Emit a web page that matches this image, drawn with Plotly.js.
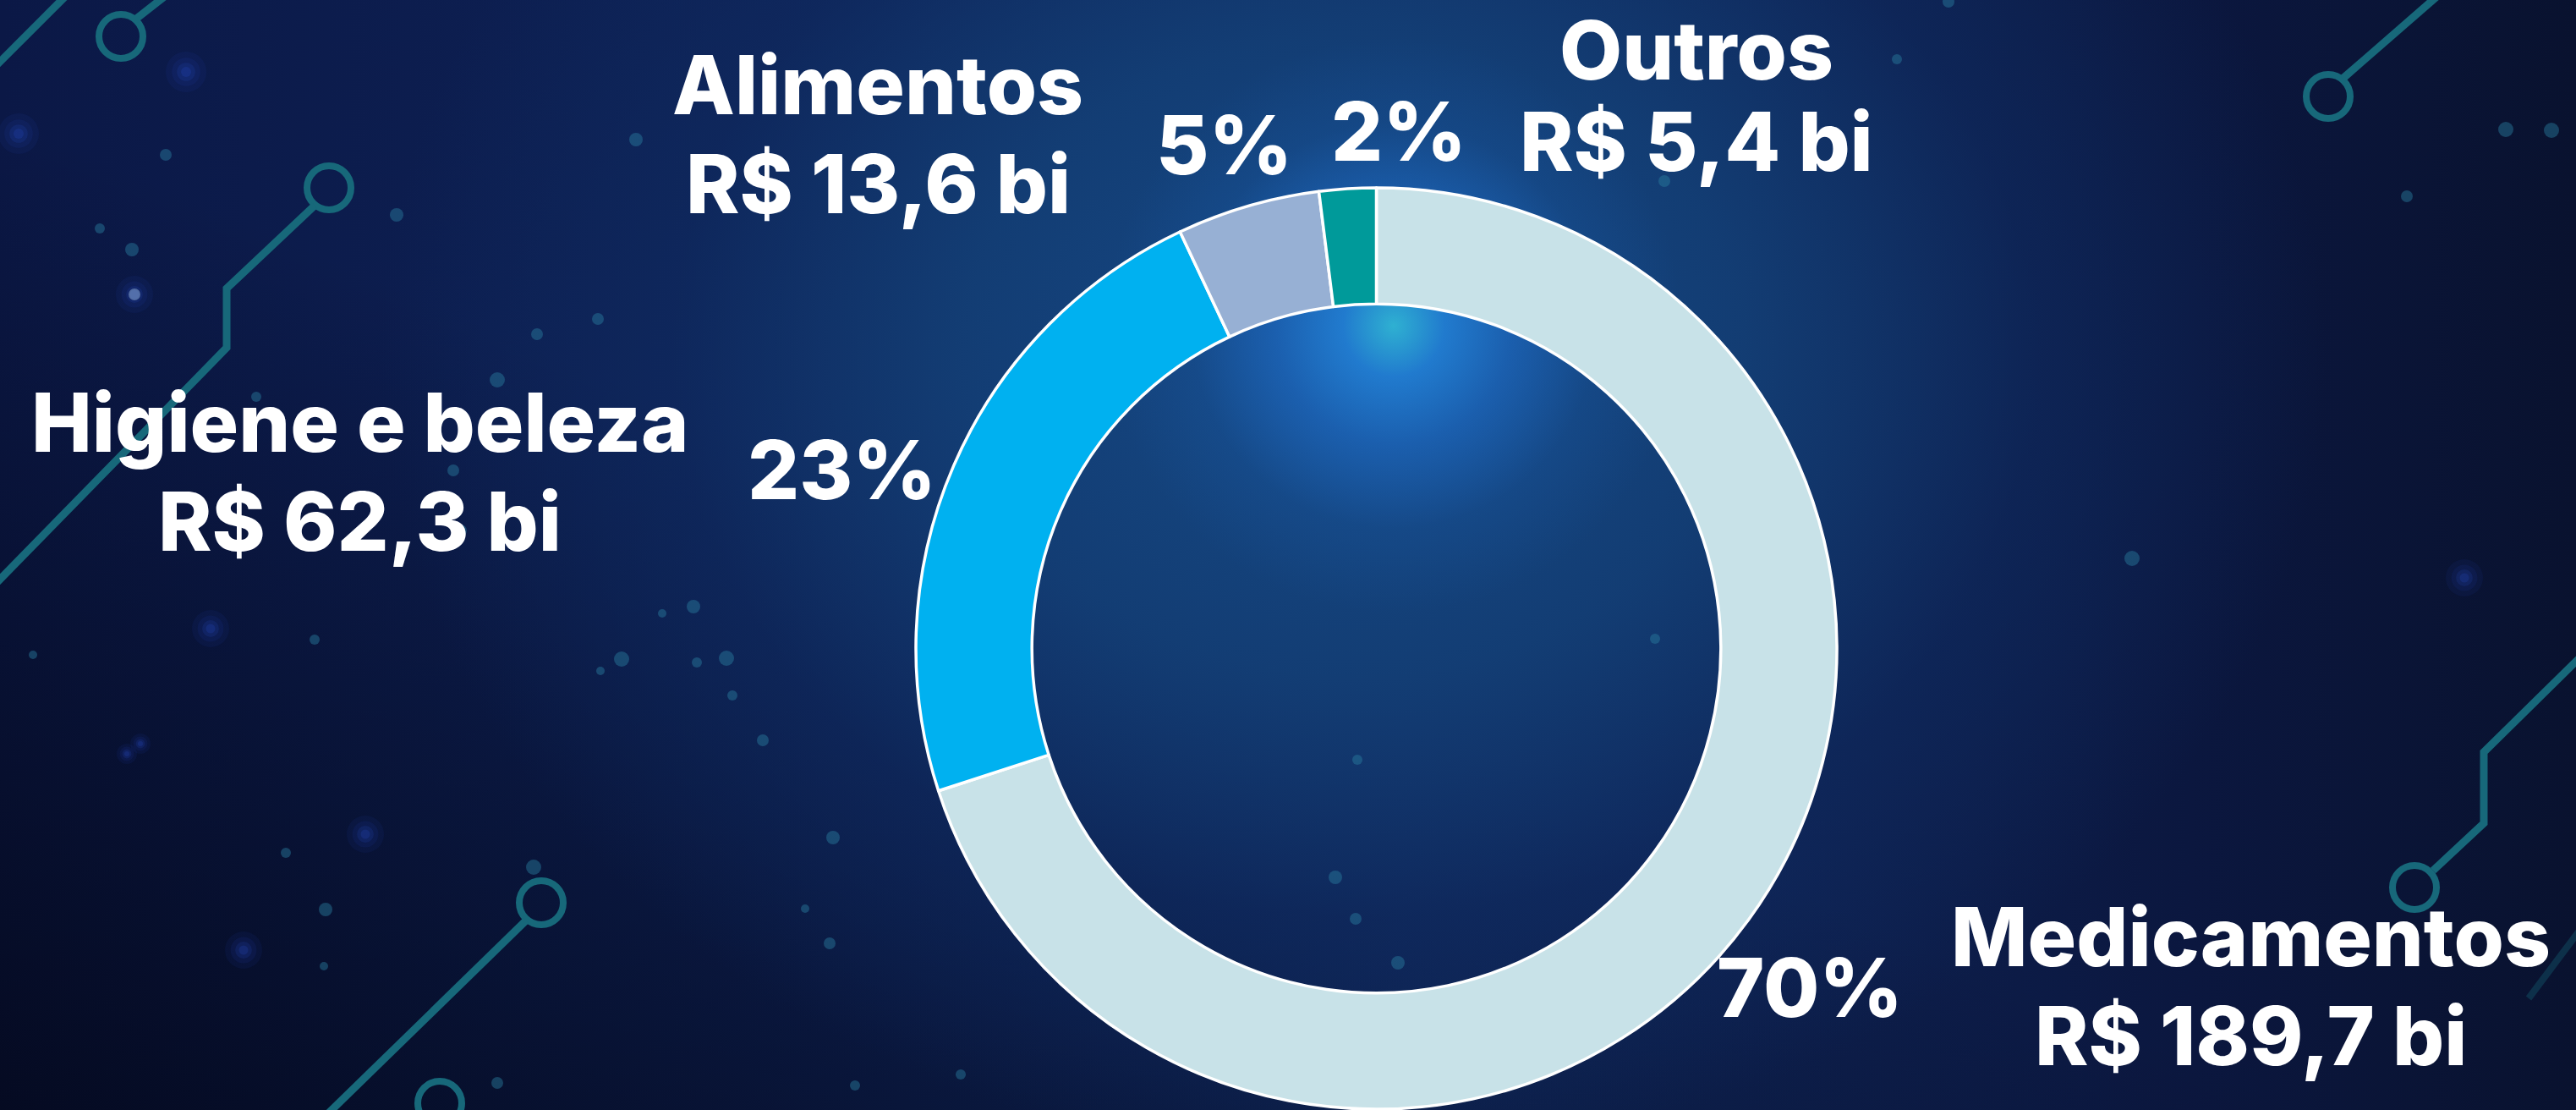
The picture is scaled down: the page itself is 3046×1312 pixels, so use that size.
<!DOCTYPE html>
<html>
<head>
<meta charset="utf-8">
<script src="https://cdn.plot.ly/plotly-3.0.1.min.js"></script>
<style>
html,body{margin:0;padding:0;}
body{
  width:3046px;height:1312px;overflow:hidden;
  background:
    radial-gradient(circle 340px at 1648px 385px, rgba(48,182,214,0.95) 0px, rgba(34,128,214,0.9) 60px, rgba(30,108,198,0.65) 140px, rgba(24,86,160,0.3) 240px, rgba(20,70,130,0) 340px),
    radial-gradient(ellipse 1150px 950px at 1600px 420px, rgba(22,74,134,1) 0%, rgba(19,63,118,0.92) 40%, rgba(15,44,98,0.55) 70%, rgba(12,30,75,0) 100%),
    linear-gradient(to top right, rgba(3,6,22,0.75) 0%, rgba(3,6,22,0) 45%),
    linear-gradient(90deg, #0b1846 0%, #0e2358 35%, #10295f 55%, #0b173f 85%, #09122f 100%);
}
#chart{width:3046px;height:1312px;}
</style>
</head>
<body>
<div id="chart"></div>
<script>
// ---- data ----
const categories = ['Medicamentos', 'Higiene e beleza', 'Alimentos', 'Outros'];
const valuesBi = [189.7, 62.3, 13.6, 5.4];

// ---- styles ----
const sliceColors = ['#C8E2E8', '#00B1F0', '#97B0D4', '#009A9A'];
const W = 3046, H = 1312;
const X = px => px / W;
const Y = py => 1 - py / H;

// label placement (pixel positions of text centres; null = pin to top edge)
const namePos = [[2661, 1107], [426, 499], [1038, 100], [2006, null]];
const pctPos = [[2140, 1167], [995, 555], [1447, 171], [1654, 155]];
const lineGap = 117;
const topLine2 = 167;

const total = valuesBi.reduce((a, b) => a + b, 0);
const fmtValue = v => 'R$ ' + v.toFixed(1).replace('.', ',') + ' bi';
const fmtPct = v => Math.round(v / total * 100) + '%';

const labelFont = {family: 'Inter, "Open Sans", sans-serif', size: 96, color: '#ffffff', weight: 800};

const annotations = [];
function addText(text, px, py, anchorTop) {
  annotations.push({
    text: text, x: X(px), y: anchorTop ? 1 : Y(py), xref: 'paper', yref: 'paper',
    xanchor: 'center', yanchor: anchorTop ? 'top' : 'middle', showarrow: false,
    borderpad: 0, font: labelFont
  });
}
categories.forEach((c, i) => {
  const [nx, ny] = namePos[i];
  if (ny === null) {
    addText(c, nx, 0, true);
    addText(fmtValue(valuesBi[i]), nx, topLine2, false);
  } else {
    addText(c, nx, ny, false);
    addText(fmtValue(valuesBi[i]), nx, ny + lineGap, false);
  }
  const [px, py] = pctPos[i];
  addText(fmtPct(valuesBi[i]), px, py, false);
});

// ---- decorative circuit background ----
const teal = '#17687a';
const shapes = [];
function poly(pts, color, width, opacity) {
  const d = pts.map((p, k) => (k ? 'L' : 'M') + X(p[0]) + ',' + Y(p[1])).join(' ');
  shapes.push({type: 'path', xref: 'paper', yref: 'paper', path: d, line: {color: color, width: width}, layer: 'below', opacity: opacity || 1});
}
function ring(cx, cy, r, color, width) {
  shapes.push({type: 'circle', xref: 'paper', yref: 'paper', x0: X(cx - r), x1: X(cx + r), y0: Y(cy + r), y1: Y(cy - r), line: {color: color, width: width}, fillcolor: 'rgba(0,0,0,0)', layer: 'below'});
}
function dot(cx, cy, r, color, opacity) {
  shapes.push({type: 'circle', xref: 'paper', yref: 'paper', x0: X(cx - r), x1: X(cx + r), y0: Y(cy + r), y1: Y(cy - r), line: {width: 0}, fillcolor: color, opacity: opacity, layer: 'below'});
}
function glow(cx, cy, r) {
  dot(cx, cy, r, '#2448c8', 0.08);
  dot(cx, cy, r * 0.7, '#2448c8', 0.1);
  dot(cx, cy, r * 0.45, '#2a55d8', 0.14);
  dot(cx, cy, r * 0.25, '#2a55d8', 0.18);
}

poly([[-10, 83], [83, -10]], teal, 9);
ring(143, 43, 26, teal, 8);
poly([[160, 23], [197, -6]], teal, 9);
ring(389, 222, 26, teal, 8);
poly([[372, 243], [268, 341], [268, 411], [-12, 697]], teal, 9);
ring(640, 1067, 26, teal, 8);
poly([[622, 1088], [384, 1320]], teal, 9);
ring(520, 1304, 26, teal, 8);
ring(2753, 114, 26, teal, 8);
poly([[2770, 93], [2886, -8]], teal, 9);
ring(2855, 1049, 26, teal, 8);
poly([[2877, 1029], [2937, 973], [2937, 889], [3060, 768]], teal, 9);
poly([[3050, 1100], [2990, 1180]], teal, 8, 0.35);

const tealDots = [
  [752, 165, 8], [469, 254, 8], [196, 183, 7], [118, 270, 6], [156, 295, 8], [707, 377, 7], [635, 395, 7],
  [588, 449, 9], [303, 469, 6], [536, 556, 7], [545, 627, 7], [820, 717, 8], [783, 725, 5], [735, 779, 9],
  [710, 793, 5], [824, 783, 6], [859, 778, 9], [866, 822, 6], [902, 875, 7], [372, 756, 6], [39, 774, 5],
  [338, 1008, 6], [385, 1075, 8], [383, 1142, 5], [631, 1025, 9], [588, 1280, 7], [985, 990, 8],
  [952, 1074, 5], [981, 1115, 7], [1957, 755, 6], [1605, 898, 6], [1579, 1037, 8], [1603, 1086, 7],
  [1653, 1138, 8], [1136, 1270, 6], [1011, 1283, 6], [1968, 214, 7], [2304, 2, 7], [2243, 70, 6],
  [2963, 153, 9], [3017, 154, 9], [2846, 232, 7], [2521, 660, 9]
];
tealDots.forEach(d => dot(d[0], d[1], d[2], '#2a7ea0', 0.45));
[[220, 85, 24], [22, 158, 24], [159, 348, 22], [249, 743, 22], [432, 986, 22], [288, 1123, 22], [2914, 683, 22], [166, 879, 12], [150, 891, 12]].forEach(g => glow(g[0], g[1], g[2]));
dot(159, 348, 7, '#8fb0d8', 0.5);

// ---- chart ----
const trace = {
  type: 'pie',
  labels: categories,
  values: valuesBi,
  sort: false,
  direction: 'clockwise',
  rotation: 0,
  hole: 0.748,
  textinfo: 'none',
  hoverinfo: 'label+value+percent',
  marker: {colors: sliceColors, line: {color: '#ffffff', width: 3.5}},
  domain: {x: [X(1083), X(2172)], y: [Y(1311), Y(222)]},
  showlegend: false
};

const layout = {
  width: W, height: H,
  margin: {l: 0, r: 0, t: 0, b: 0},
  paper_bgcolor: 'rgba(0,0,0,0)',
  plot_bgcolor: 'rgba(0,0,0,0)',
  showlegend: false,
  annotations: annotations,
  shapes: shapes
};

Plotly.newPlot('chart', [trace], layout, {displayModeBar: false, staticPlot: true});
</script>
</body>
</html>
